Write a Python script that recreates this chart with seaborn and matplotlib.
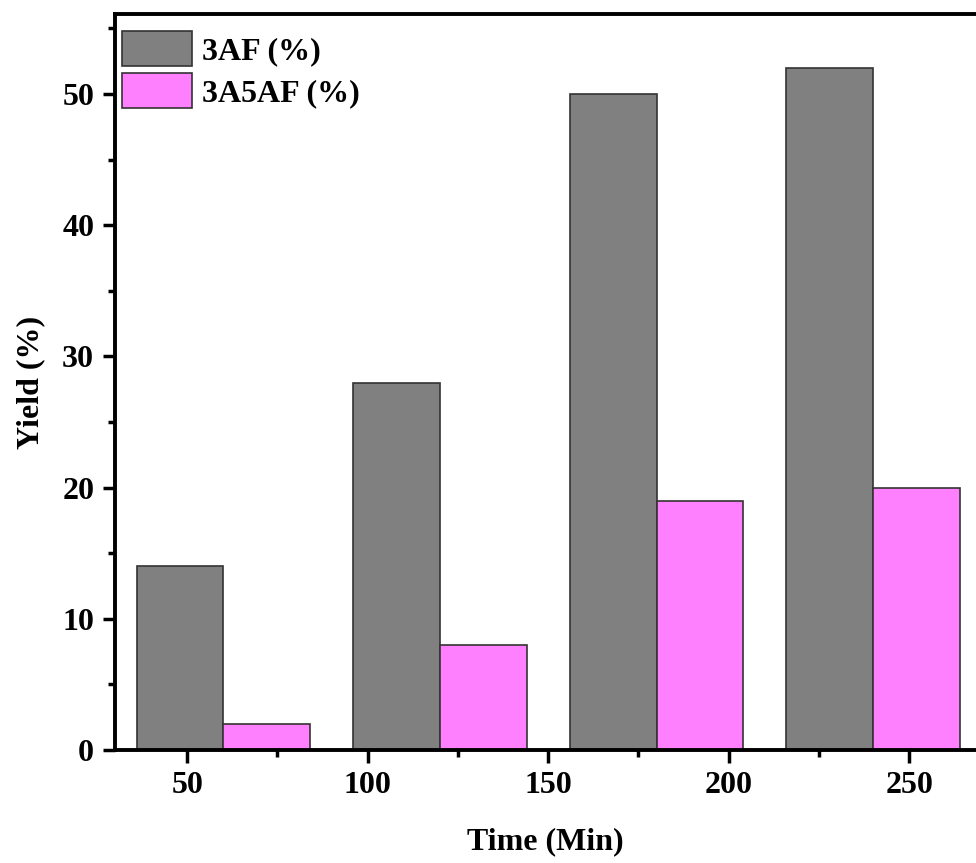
import matplotlib
matplotlib.use("Agg")
import matplotlib.pyplot as plt
from matplotlib.ticker import MultipleLocator
import seaborn as sns
import pandas as pd

times = [60, 120, 180, 240]
yield_3af = [14, 28, 50, 52]
yield_3a5af = [2, 8, 19, 20]
series_names = ["3AF (%)", "3A5AF (%)"]
colors = ["#808080", "#FF80FF"]

sns.set_style("ticks")
plt.rcParams['font.family'] = ['Liberation Serif', 'DejaVu Serif']
plt.rcParams['font.weight'] = 'bold'
plt.rcParams['text.color'] = 'black'
plt.rcParams['axes.labelcolor'] = 'black'
plt.rcParams['xtick.color'] = 'black'
plt.rcParams['ytick.color'] = 'black'

df = pd.DataFrame({
    "Time": times * 2,
    "Yield": yield_3af + yield_3a5af,
    "Series": [series_names[0]] * len(times) + [series_names[1]] * len(times),
})

fig = plt.figure(figsize=(9.76, 8.63), dpi=100)
ax = fig.add_axes([115 / 976, 113 / 863, 1 - 115 / 976, (750 - 14) / 863])

sns.barplot(data=df, x="Time", y="Yield", hue="Series", hue_order=series_names,
            palette=colors, native_scale=True, width=0.8, saturation=1,
            edgecolor="#333333", linewidth=1.2, ax=ax, legend=True)

ax.set_xlim(30, 268.5)
ax.set_ylim(0, 56.1)
ax.xaxis.set_major_locator(MultipleLocator(50))
ax.xaxis.set_minor_locator(MultipleLocator(25))
ax.yaxis.set_major_locator(MultipleLocator(10))
ax.yaxis.set_minor_locator(MultipleLocator(5))

ax.tick_params(axis='both', which='major', direction='out', length=9, width=2.5,
               labelsize=23, pad=6, colors='black')
ax.tick_params(axis='both', which='minor', direction='out', length=5, width=2.5,
               colors='black')
for lab in ax.get_xticklabels() + ax.get_yticklabels():
    lab.set_fontweight('bold')

for s in ['left', 'bottom', 'top']:
    ax.spines[s].set_linewidth(2.8)
    ax.spines[s].set_color('black')
ax.spines['right'].set_visible(False)

ax.set_xlabel("Time (Min)", fontsize=23, fontweight='bold', labelpad=20, color='black')
ax.set_ylabel("Yield (%)", fontsize=23, fontweight='bold', labelpad=12, color='black')

handles, labels = ax.get_legend_handles_labels()
leg = ax.legend(handles, labels, loc='upper left', frameon=False,
                bbox_to_anchor=(7 / 861, (750 - 33) / 736),
                handlelength=2.2, handleheight=1.1, labelspacing=0.28,
                handletextpad=0.3, borderaxespad=0.0, borderpad=0.0,
                prop={'weight': 'bold', 'size': 23})
for t in leg.get_texts():
    t.set_color('black')
# make legend patches a bit taller, as in the reference
for p in leg.get_patches():
    y0 = p.get_y()
    h = p.get_height()
    p.set_y(y0 - 0.06 * h)
    p.set_height(h * 1.12)

fig.savefig("out.png", dpi=100)
